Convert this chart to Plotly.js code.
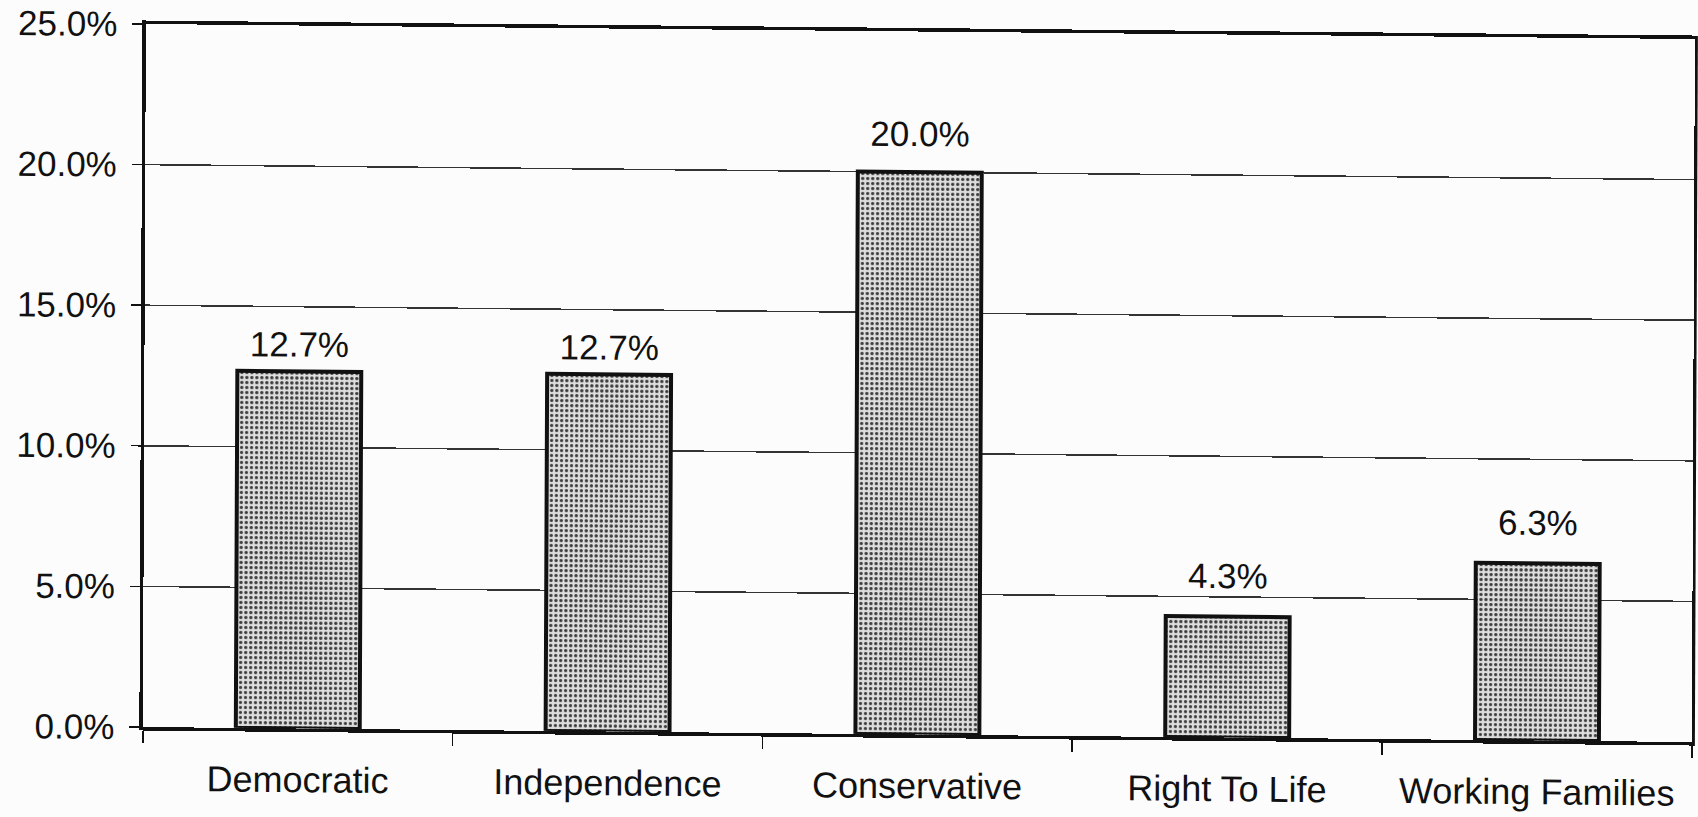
<!DOCTYPE html>
<html>
<head>
<meta charset="utf-8">
<script src="https://cdn.plot.ly/plotly-3.0.1.min.js"></script>
<style>
  html, body { margin: 0; padding: 0; background: #fcfcfc; overflow: hidden; }
  #chart { width: 1698px; height: 817px; transform-origin: 0 0;
           transform: matrix(1, 0.0097, -0.0043, 1, 0, -1.4); }
</style>
</head>
<body>
<div id="chart"></div>
<script>
const categories = ["Democratic", "Independence", "Conservative", "Right To Life", "Working Families"];
const shares = [12.7, 12.7, 20.0, 4.3, 6.3];
const yTicks = [0, 5, 10, 15, 20, 25];
const yTickLabels = ["0.0%", "5.0%", "10.0%", "15.0%", "20.0%", "25.0%"];

const bars = {
  type: "bar",
  x: categories,
  y: shares,
  marker: {
    color: "#d0d0d0",
    line: { color: "#111", width: 4 },
    pattern: { shape: ".", fgcolor: "#3c3c3c", bgcolor: "#dedede", size: 5, solidity: 0.35 }
  },
  hoverinfo: "skip"
};

const labels = {
  type: "scatter",
  mode: "markers+text",
  x: categories,
  y: shares,
  texttemplate: "%{y:.1f}%",
  textposition: "top center",
  cliponaxis: false,
  marker: { size: [8, 8, 26, 30, 30], opacity: 0, color: "#fcfcfc" },
  textfont: { family: "Liberation Sans, Arial, sans-serif", size: 35, color: "#111" },
  hoverinfo: "skip"
};

const layout = {
  width: 1698,
  height: 817,
  margin: { l: 146, r: 3, t: 24, b: 90 },
  paper_bgcolor: "#fcfcfc",
  plot_bgcolor: "#fcfcfc",
  bargap: 0.6,
  showlegend: false,
  font: { family: "Liberation Sans, Arial, sans-serif", size: 35, color: "#111" },
  xaxis: {
    type: "category",
    showline: true, linecolor: "#111", linewidth: 3.5, mirror: true,
    ticks: "outside", ticklen: 12, tickwidth: 1.5, tickcolor: "#111",
    tickson: "boundaries",
    ticklabelstandoff: 17,
    tickfont: { size: 36 },
    showgrid: false, zeroline: false
  },
  yaxis: {
    range: [0, 25],
    tickmode: "array",
    tickvals: yTicks,
    ticktext: yTickLabels,
    showline: true, linecolor: "#111", linewidth: 3.5, mirror: true,
    ticks: "outside", ticklen: 10, tickwidth: 1.5, tickcolor: "#111",
    ticklabelstandoff: 8,
    tickfont: { size: 35 },
    showgrid: true, gridcolor: "#333", gridwidth: 1.5,
    zeroline: false
  }
};

Plotly.newPlot("chart", [bars, labels], layout, { displayModeBar: false, staticPlot: true });
</script>
</body>
</html>
